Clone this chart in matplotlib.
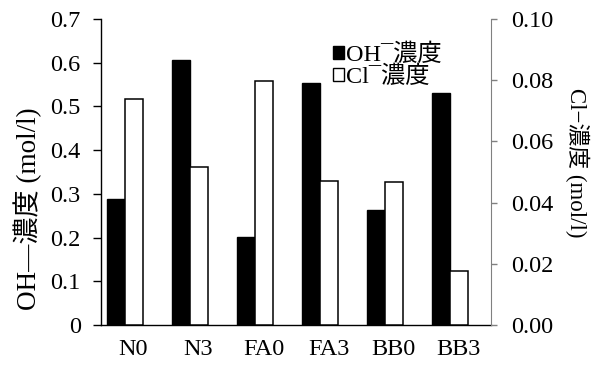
import matplotlib
matplotlib.use("Agg")
import matplotlib.pyplot as plt
import numpy as np
from matplotlib.patches import Patch

# Sample names and measured concentrations
samples = ["N0", "N3", "FA0", "FA3", "BB0", "BB3"]
oh_conc = [0.288, 0.607, 0.201, 0.553, 0.264, 0.530]     # mol/l, left axis
cl_conc = [0.0740, 0.0516, 0.0797, 0.0470, 0.0466, 0.0175]  # mol/l, right axis

serif_jp = ["Liberation Serif", "Noto Sans CJK JP"]
plt.rcParams["font.family"] = serif_jp
plt.rcParams["font.size"] = 17.5

fig = plt.figure(figsize=(6.03, 3.70), dpi=100)
ax = fig.add_axes([0.1675, 0.1216, 0.6468, 0.827])
ax2 = ax.twinx()

x = np.arange(len(samples))
w = 0.275
ax.bar(x - 0.135 - w / 2, oh_conc, w, color="black", edgecolor="black", linewidth=1.0)
ax2.bar(x - 0.135 + w / 2, cl_conc, w, color="white", edgecolor="black", linewidth=1.1)

ax.set_xlim(-0.5, len(samples) - 0.5)
ax.set_ylim(0, 0.7)
ax.set_yticks(np.arange(0, 0.71, 0.1))
ax.set_yticklabels(["0"] + [f"{v:.1f}" for v in np.arange(0.1, 0.71, 0.1)])
ax2.set_ylim(0, 0.10)
ax2.set_yticks(np.arange(0, 0.101, 0.02))
ax2.set_yticklabels([f"{v:.2f}" for v in np.arange(0, 0.101, 0.02)])

ax.set_xticks(x)
ax.set_xticklabels(samples)
ax.tick_params(axis="x", length=0, pad=10)
ax.tick_params(axis="y", direction="out", length=5.5, width=1.0, pad=9)
ax2.tick_params(axis="y", direction="out", length=4.5, width=1.0, color="#808080", pad=10)

for a in (ax, ax2):
    a.spines["top"].set_visible(False)
ax.spines["right"].set_visible(False)
ax2.spines["left"].set_visible(False)
ax2.spines["bottom"].set_visible(False)
ax2.spines["right"].set_color("#808080")
ax.spines["left"].set_linewidth(1.0)
ax.spines["bottom"].set_linewidth(1.0)

ax.set_ylabel("OH—濃度 (mol/l)", fontsize=19.5)
ax.yaxis.set_label_coords(-0.15, 0.38)
ax2.set_ylabel("Cl−濃度 (mol/l)", rotation=-90, fontsize=16.5)
ax2.yaxis.set_label_coords(1.253, 0.53)

handles = [Patch(facecolor="black", edgecolor="black"),
           Patch(facecolor="white", edgecolor="black", linewidth=1.0)]
ax2.legend(handles, ["OH¯濃度", "Cl¯濃度"], loc="upper left",
           bbox_to_anchor=(0.595, 0.92), frameon=False,
           handlelength=0.45, handleheight=0.45, handletextpad=0.1,
           labelspacing=0.0, borderaxespad=0, borderpad=0)

fig.savefig("out.png", dpi=100)
